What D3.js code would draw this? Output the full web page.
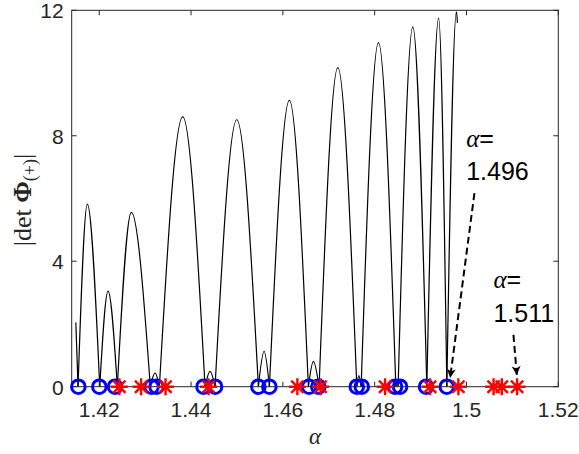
<!DOCTYPE html>
<meta charset="utf-8">
<script src="https://d3js.org/d3.v7.min.js"></script>
<style>
  body { margin: 0; background: #fff; }
  text { font-family: "Liberation Sans", Arial, sans-serif; }
</style>
<div id="chart"></div>
<script>

// key points of |det Phi(+)|: zeros and lobe tops
var curveAlpha = [1.4149, 1.41538, 1.41741, 1.42011, 1.42192, 1.42394, 1.42699, 1.43113, 1.43216, 1.43310,
  1.43819, 1.44305, 1.44414, 1.44523, 1.44996, 1.45467, 1.45591, 1.45707, 1.46142, 1.46556,
  1.46665, 1.46789, 1.47197, 1.47611, 1.47654, 1.47705, 1.48082, 1.48461, 1.48486, 1.48511,
  1.48831, 1.49136, 1.49393, 1.49572, 1.49781, 1.49803];
var curveValue = [2.05, 0, 5.82, 0, 3.05, 0, 5.56, 0, 0.44, 0,
  8.6, 0, 0.49, 0, 8.51, 0, 1.13, 0, 9.13, 0,
  0.81, 0, 10.17, 0, 0.35, 0, 10.97, 0, 0.2, 0,
  11.47, 0, 11.75, 0, 11.95, 11.6];

// roots marked on the alpha axis
var circleAlpha = [1.41545, 1.42002, 1.42344, 1.43139, 1.43248, 1.44272, 1.44523, 1.45466, 1.45706,
  1.46571, 1.46773, 1.47610, 1.47719, 1.48444, 1.48553, 1.49120, 1.49571];
var starAlpha = [1.42438, 1.42911, 1.43444, 1.44381, 1.46316, 1.46821, 1.48227, 1.49207, 1.49823,
  1.50590, 1.50769, 1.51102];

var xTicks = [1.42, 1.44, 1.46, 1.48, 1.5, 1.52];
var xTickLabels = ["1.42", "1.44", "1.46", "1.48", "1.5", "1.52"];
var yTicks = [0, 4, 8, 12];

// annotations: label, text anchor and arrow (alpha, value)
var noteLabels = ["1.496", "1.511"];
var noteTextAt = [[1.49993, 7.65, 6.59], [1.50587, 3.15, 2.07]];
var noteArrows = [[1.50173, 6.17, 1.49644, 0.28], [1.51023, 1.65, 1.51097, 0.37]];

var W = 579, H = 454;
var padL = 71.7, padR = 558.3, padT = 10.3, padB = 386.7;

var svg = d3.select("#chart").append("svg")
  .attr("width", W).attr("height", H);

var x = d3.scaleLinear().domain([1.414, 1.52]).range([padL, padR]);
var y = d3.scaleLinear().domain([0, 12]).range([padB, padT]);

var axisColor = "#262626";

// split the curve into lobes at each zero so the dips stay sharp
var pts = curveAlpha.map(function(a, i) { return [a, curveValue[i]]; });
var segments = [], cur = [];
pts.forEach(function(p) {
  cur.push(p);
  if (p[1] === 0 && cur.length > 1) { segments.push(cur); cur = [p]; }
});
if (cur.length > 1) segments.push(cur);

var line = d3.line()
  .x(function(d) { return x(d[0]); })
  .y(function(d) { return y(d[1]); })
  .curve(d3.curveMonotoneX);

svg.append("g").selectAll("path")
  .data(segments)
  .enter().append("path")
  .attr("d", line)
  .attr("fill", "none")
  .attr("stroke", "#000")
  .attr("stroke-width", 1.2);

// axes box
svg.append("rect")
  .attr("x", padL).attr("y", padT)
  .attr("width", padR - padL).attr("height", padB - padT)
  .attr("fill", "none").attr("stroke", axisColor).attr("stroke-width", 1);

var tl = 5;
var g = svg.append("g").attr("stroke", axisColor).attr("stroke-width", 1);
xTicks.forEach(function(t) {
  g.append("line").attr("x1", x(t)).attr("x2", x(t)).attr("y1", padB).attr("y2", padB - tl);
  g.append("line").attr("x1", x(t)).attr("x2", x(t)).attr("y1", padT).attr("y2", padT + tl);
});
yTicks.forEach(function(t) {
  g.append("line").attr("x1", padL).attr("x2", padL + tl).attr("y1", y(t)).attr("y2", y(t));
  g.append("line").attr("x1", padR).attr("x2", padR - tl).attr("y1", y(t)).attr("y2", y(t));
});

svg.append("g").selectAll("text")
  .data(xTicks)
  .enter().append("text")
  .attr("x", function(d) { return x(d); })
  .attr("y", padB + 30)
  .attr("text-anchor", "middle")
  .attr("font-size", 21)
  .attr("fill", axisColor)
  .text(function(d, i) { return xTickLabels[i]; });

svg.append("g").selectAll("text")
  .data(yTicks)
  .enter().append("text")
  .attr("x", padL - 8)
  .attr("y", function(d) { return y(d) + 8; })
  .attr("text-anchor", "end")
  .attr("font-size", 21)
  .attr("fill", axisColor)
  .text(function(d) { return d; });

// markers
svg.append("g").selectAll("circle")
  .data(circleAlpha)
  .enter().append("circle")
  .attr("cx", function(d) { return x(d); })
  .attr("cy", y(0))
  .attr("r", 6.8)
  .attr("fill", "none")
  .attr("stroke", "#0000ff")
  .attr("stroke-width", 3);

var s = 8.5, sd = s * 0.72;
var starPath = "M" + (-s) + ",0H" + s + "M0," + (-s) + "V" + s +
  "M" + (-sd) + "," + (-sd) + "L" + sd + "," + sd +
  "M" + (-sd) + "," + sd + "L" + sd + "," + (-sd);
svg.append("g").selectAll("path")
  .data(starAlpha)
  .enter().append("path")
  .attr("transform", function(d) { return "translate(" + x(d) + "," + y(0) + ")"; })
  .attr("d", starPath)
  .attr("fill", "none")
  .attr("stroke", "#ff0000")
  .attr("stroke-width", 2.4);

// axis labels
svg.append("text")
  .attr("x", (padL + padR) / 2)
  .attr("y", 444)
  .attr("text-anchor", "middle")
  .style("font-family", "'Liberation Serif', serif")
  .style("font-style", "italic")
  .attr("font-size", 23)
  .attr("fill", axisColor)
  .text("α");

var yl = svg.append("text")
  .attr("transform", "translate(31,200) rotate(-90)")
  .attr("text-anchor", "middle")
  .style("font-family", "'Liberation Serif', serif")
  .attr("font-size", 26)
  .attr("fill", axisColor);
yl.append("tspan").text("|det ");
yl.append("tspan").attr("font-weight", "bold").text("Φ");
yl.append("tspan").attr("font-size", 18).attr("dy", 5).text("(+)");
yl.append("tspan").attr("dy", -5).text("|");

// annotation arrows
var defs = svg.append("defs");
defs.append("marker")
  .attr("id", "head")
  .attr("viewBox", "-1 -5 11 10")
  .attr("refX", 9).attr("refY", 0)
  .attr("markerWidth", 11).attr("markerHeight", 10)
  .attr("markerUnits", "userSpaceOnUse")
  .attr("orient", "auto")
  .append("path")
  .attr("d", "M0,-4.5L9,0L0,4.5L2.5,0Z")
  .attr("fill", "#000");

noteArrows.forEach(function(a) {
  svg.append("line")
    .attr("x1", x(a[0])).attr("y1", y(a[1]))
    .attr("x2", x(a[2])).attr("y2", y(a[3]))
    .attr("stroke", "#000")
    .attr("stroke-width", 2)
    .attr("stroke-dasharray", "7,4")
    .attr("marker-end", "url(#head)");
});

noteTextAt.forEach(function(p, i) {
  var t1 = svg.append("text")
    .attr("x", x(p[0])).attr("y", y(p[1]))
    .attr("font-size", 25).attr("fill", "#000");
  t1.append("tspan")
    .style("font-family", "'Liberation Serif', serif")
    .style("font-style", "italic")
    .text("α");
  t1.append("tspan").text("=");
  svg.append("text")
    .attr("x", x(p[0])).attr("y", y(p[2]))
    .attr("font-size", 25).attr("fill", "#000")
    .text(noteLabels[i]);
});

</script>
